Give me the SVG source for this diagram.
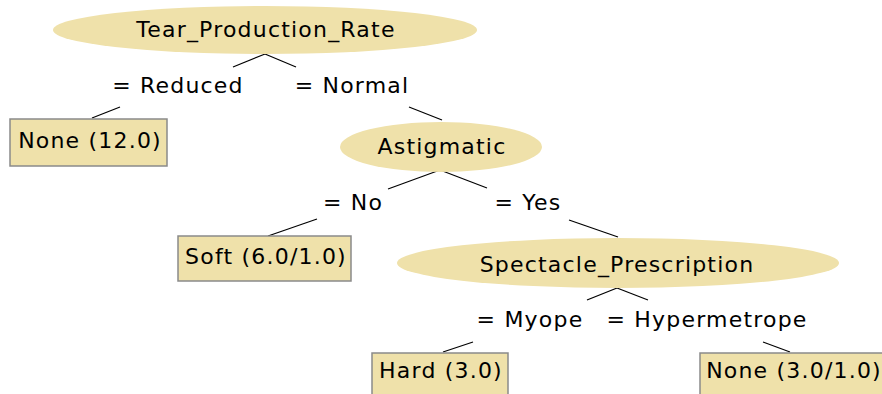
<svg xmlns="http://www.w3.org/2000/svg" width="882" height="394" viewBox="0 0 882 394">
<style>
text{font-family:"DejaVu Sans","Liberation Sans",sans-serif;font-size:22px;letter-spacing:1.2px;fill:#000;text-anchor:middle}
.n{fill:#efe1aa;stroke:none}
.b{fill:#efe1aa;stroke:#8a8a8a;stroke-width:1.5}
.c line{stroke:#000;stroke-width:1.2}
</style>
<rect width="882" height="394" fill="#fff"/>
<g class="c" id="connectors">
<line x1="233" y1="67" x2="265" y2="54"/><line x1="265" y1="54" x2="296" y2="67"/>
<line x1="120" y1="107" x2="92" y2="118"/>
<line x1="409" y1="107" x2="442" y2="120"/>
<line x1="388" y1="189" x2="440" y2="170"/><line x1="440" y1="170" x2="487" y2="188"/>
<line x1="317" y1="219" x2="268" y2="236"/>
<line x1="569" y1="220" x2="618" y2="237"/>
<line x1="587" y1="300" x2="617" y2="288"/><line x1="617" y1="288" x2="648" y2="300"/>
<line x1="473" y1="342" x2="443" y2="352"/>
<line x1="763" y1="342" x2="790" y2="352"/>
<text x="178" y="93">= Reduced</text>
<text x="352" y="93">= Normal</text>
<text x="353" y="210">= No</text>
<text x="528" y="210">= Yes</text>
<text x="530" y="327">= Myope</text>
<text x="707" y="327">= Hypermetrope</text>
</g>
<g id="tear"><ellipse class="n" cx="265" cy="30" rx="212" ry="24"/><text x="266" y="37">Tear_Production_Rate</text></g>
<g id="none12"><rect class="b" x="10" y="119" width="157" height="47"/><text x="90" y="148">None (12.0)</text></g>
<g id="astig"><ellipse class="n" cx="441" cy="147" rx="101" ry="25"/><text x="442" y="154">Astigmatic</text></g>
<g id="soft"><rect class="b" x="178" y="236" width="173" height="45"/><text x="266" y="264">Soft (6.0/1.0)</text></g>
<g id="spect"><ellipse class="n" cx="618" cy="263" rx="221" ry="25"/><text x="617" y="272">Spectacle_Prescription</text></g>
<g id="hard"><rect class="b" x="372" y="353" width="136" height="50"/><text x="441" y="378">Hard (3.0)</text></g>
<g id="none3"><rect class="b" x="700" y="353" width="190" height="50"/><text x="794" y="378">None (3.0/1.0)</text></g>
</svg>
